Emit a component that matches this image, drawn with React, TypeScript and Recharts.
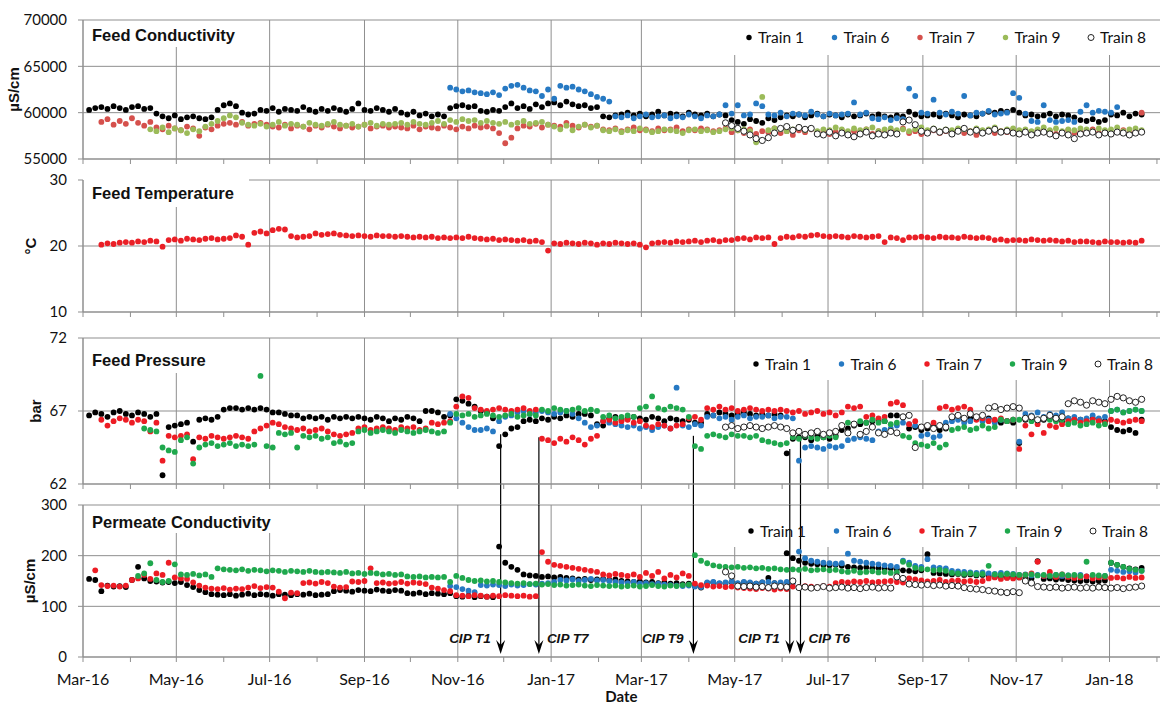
import React from "react";
import {
  ScatterChart,
  Scatter,
  XAxis,
  YAxis,
  CartesianGrid,
  ReferenceLine,
} from "recharts";

// day 0 = 1 Mar 2016, one reading plotted every 4 days
const STEP = 4;

const monthLabels = [
  "Mar-16", "Apr-16", "May-16", "Jun-16", "Jul-16", "Aug-16", "Sep-16", "Oct-16",
  "Nov-16", "Dec-16", "Jan-17", "Feb-17", "Mar-17", "Apr-17", "May-17", "Jun-17",
  "Jul-17", "Aug-17", "Sep-17", "Oct-17", "Nov-17", "Dec-17", "Jan-18", "Feb-18",
];
const monthDays = [
  0, 31, 61, 92, 122, 153, 184, 214, 245, 275, 306, 337, 365, 396, 426, 457, 487,
  518, 549, 579, 610, 640, 671, 702,
];
const majorDays = monthDays.filter((_, i) => i % 2 === 0);
const trains = ["Train 1", "Train 6", "Train 7", "Train 9", "Train 8"];

// ---- Feed conductivity (uS/cm)
const condT1 = [
  60300, 60500, 60600, 60400, 60700, 60500, 60300, 60600, 60700, 60400, 60500,
  59900, 59600, 59400, 59700, 59300, 59500, 59600, 59400, 59300, 59500,
  60300, 60800, 61000, 60700, 60000, 59800, 59900,
  60300, 60200, 60500, 60100, 60400, 60300, 60200, 60600, 60300, 60100, 60400, 60200,
  60500, 60300, 60100, 60400, 61000, 60300, 60200, 60500, 60300, 60100, 60400,
  60000, 59800, 60100, 59700, 59900, 59600, 59800, 59600,
  60500, 60700, 60800, 60600, 60700, 60200, 60100, 60300, 60200,
  60600, 61000, 60500, 60700, 60400, 60900, 60600, 61000,
  61100, 60800, 61200, 60900, 60700, 60800, 60500, 60600, 59600, 59500, 59700,
  59800, 60000, 59700, 59900, 59600, 59800, 60100, 59700, 59900, 59800, 59600, 60000,
  59800, 59700, 59900, 59600, 59800, 59700,
  59200, 59000, 58800, 59300, 59100, 58900, 59400, 59200, 59500,
  59700, 59600, 59800, 59500, 59700, 59900, 59600, 59800, 59700, 59500, 59800, 59600,
  59700, 59900, 59600, 59800,
  59600, 59500, 59700, 59600, 60100, 59800, 59600,
  59700, 59800, 59600, 59900, 59700, 59500, 59800, 59700, 59600, 59900,
  60100, 60000, 60200, 60100, 60300, 60000,
  59700, 59800, 59600, 59700, 59900, 59600, 59800, 59700, 59500,
  59200, 59100, 59300, 59000, 59200, 59800, 59700, 60000, 59600, 59900, 59800,
];
const condT6 = [
  62700, 62500, 62300, 62400, 62200, 62100, 62000, 62200, 61900,
  62600, 62900, 63000, 62700, 62400, 62300, 61800, 62500, 61500,
  62900, 62700, 62800, 62500, 62300, 62000, 61700, 61500, 61200,
  59600, 59500, 59700, 59400, 59600, 59800, 59500, 59600, 59700, 59400, 59600, 59500,
  59800, 59600, 59400, 59700, 59600, 59800, 60800,
  59900, 60800, 59700, 59800, 61000, 60700,
  59800, 59700, 60000, 59600, 59900, 59800, 59700, 60100, 59800, 59600, 59900, 59700, 59800,
  59900, 61100, 59800, 60000, 59400, 59300, 59500, 59200, 59400, 59300,
  62600, 61800, 60000,
  59900, 61400, 60000, 59800, 60100, 59900, 61800, 59700, 60000, 59900, 60200, 59800, 59900,
  60000, 62100, 61600, 59900,
  59100, 59000, 60800, 59200, 59000, 59100, 59200, 59000,
  60100, 60800, 60000, 60200, 60100, 60000, 60600,
];
const condT7 = [
  59000, 59300, 58700, 59100, 58800, 59400, 58900, 58600, 59000,
  58400, 58200, 58600, 58300, 58100, 58500, 58300, 57500, 58400, 58200, 58600,
  58800, 58900, 58700, 59000, 58600, 58800, 58900, 58700,
  58500, 58400, 58700, 58300, 58600, 58500, 58200, 58600, 58400, 58700, 58500,
  58300, 58600, 58400, 58500, 58700, 58300, 58500, 58600, 58400, 58500,
  58400, 58300, 58600, 58200, 58500, 58400, 58300, 58600, 58400, 58200, 58500,
  58300, 58600, 58400, 58500, 58300,
  57800, 56700, 57300, 58300,
  58600, 58500, 58800, 58400, 58700, 58600, 58500, 58900, 58600, 58400, 58700, 58500, 58600,
  58200, 58100, 58300, 58000, 58200, 58400, 58100, 58200, 58000, 58300, 58100,
  58200, 58400, 58000, 58200, 58100, 58300, 58200, 58000, 58100, 58300,
  57900, 58100, 57800, 58200, 57700, 58000, 57900, 58300, 57800, 58000,
  57600, 58100, 57900, 58200, 57800, 58000, 57700, 57900, 58100, 57800,
  58000, 57900, 58200, 57700, 58000, 57800, 58100, 57900, 58300, 57800,
  58000, 57700, 57900, 58100, 57800, 58000, 57900, 58200, 57800, 58000,
  57600, 57900, 58100, 57800, 58000, 57900, 58200, 57700, 58000, 57800,
  58100, 57900, 58000, 57700, 57900, 58100, 57800, 58000, 57900, 58200,
  57800, 58000, 57700, 57900, 58100, 57800, 58000, 60000,
];
const condT9 = [
  58200, 58000, 58400, 57900, 58300, 58100, 57800, 58200, 58000,
  58500, 58800, 59100, 59400, 59700, 59500,
  58900, 58700, 58600, 58800, 58500, 58700, 59000, 58600, 58800, 58700, 58500, 58900,
  58700, 58600, 58800, 59000, 58700, 58600, 58800, 58500, 58700, 58900, 58600, 58800, 58700,
  58800, 58900, 58700, 59000, 58800, 58700, 58900, 59100, 58800,
  59200, 59000, 59300, 59100, 59200, 58900, 59100,
  58900, 58800, 59000, 58700, 58900, 59100, 58800, 58900, 59000, 58700,
  58500, 58200, 58600, 58100, 58500, 58700, 58400, 58600,
  58100, 58000, 58200, 57900, 58100, 58000, 58300, 58100, 57900, 58000, 58200,
  58100, 58000, 57800, 58100, 58200, 58000, 58100, 57900, 58000, 58200,
  58300, 58100, 58200, 58000, 56800, 61700, 58100, 58300, 58200, 58000,
  58200, 58400, 58100, 58300, 58000, 58200, 58100, 58400, 58200, 58000,
  58300, 58100, 58200, 58400, 58000, 58200, 58300, 58100, 58200, 58000,
  58200, 58400, 58100, 58300, 58000, 58200, 58100, 58300, 58200, 58000,
  58300, 58100, 58200, 58400, 58000, 58200, 58300, 58100, 58200, 58000,
  58200, 58400, 58100, 58300, 58000, 58200, 58100, 58300, 58200, 58000,
  58300, 58100, 58200, 58400, 58000, 58200, 58300, 58100,
];
const condT8 = [
  58900, 58600, 58300, 58000, 57600, 57200, 57000, 57300, 57800,
  58300, 58500, 58100, 58400, 58200, 58300,
  57700, 57600, 57900, 57500, 57800, 57600, 57400, 57700, 57900, 57500, 57700, 57600, 57800, 57700,
  59000, 59200, 58700,
  58000, 57800, 58200, 57900, 58100, 57700, 58000, 58300, 57900, 58100, 57800, 58000, 58200, 57900, 58000,
  57800, 57700, 57900, 57600, 57800, 57900, 57700, 57500, 57800, 57600, 57200,
  57700, 57800, 57900, 57600, 57800, 57700, 57900, 57800, 57600, 57800, 57900,
];

// ---- Feed temperature (deg C)
const feedTemp = [
  20.2, 20.4, 20.3, 20.5, 20.6, 20.5, 20.7, 20.6, 20.8, 20.7, 19.9,
  20.9, 21.0, 20.8, 21.1, 21.0, 20.9, 21.1, 21.2, 21.0, 21.1, 21.2,
  21.6, 21.4, 20.2, 22.0, 22.2, 21.9, 22.4, 22.6, 22.5,
  21.5, 21.3, 21.4, 21.5, 21.9, 21.7, 21.8, 21.9, 21.7,
  21.6, 21.5, 21.6, 21.5, 21.4, 21.6, 21.5, 21.5, 21.4, 21.5, 21.4, 21.3, 21.4, 21.3,
  21.4, 21.2, 21.3, 21.2,
  21.3, 21.2, 21.4, 21.2, 21.1, 21.0, 21.1, 20.9, 21.0, 20.9, 20.8, 20.9, 20.7, 20.8,
  20.6, 19.3,
  20.4, 20.3, 20.5, 20.4, 20.3, 20.5, 20.4, 20.2, 20.4, 20.3, 20.5, 20.4, 20.3, 20.4, 20.2,
  19.8,
  20.4, 20.5, 20.6, 20.5, 20.7, 20.6, 20.7, 20.8, 20.6, 20.8, 20.9, 20.7, 20.9, 20.9,
  21.1, 21.2, 21.0, 21.3, 21.2, 21.3, 20.3, 21.2,
  21.4, 21.3, 21.5, 21.4, 21.6, 21.7, 21.5, 21.4, 21.5, 21.4, 21.3, 21.5, 21.4, 21.3, 21.4, 21.5,
  20.6, 21.3, 21.2, 20.9, 21.3,
  21.3, 21.4, 21.3, 21.2, 21.4, 21.3, 21.3, 21.2, 21.4, 21.3, 21.2, 21.3, 21.2,
  20.9, 21.0, 20.8, 20.9, 20.9, 20.8, 21.0, 20.9, 20.8, 20.9, 20.8,
  20.7, 20.8, 20.6, 20.7, 20.7, 20.6, 20.5, 20.7, 20.6, 20.6, 20.5, 20.6, 20.5, 20.8,
];

// ---- Feed pressure (bar)
const presT1 = [
  66.7, 66.9, 66.8, 66.6, 66.9, 67.0, 66.8, 66.7, 66.9, 66.8, 66.6, 66.8,
  62.6, 65.9, 66.0, 66.1, 66.2, 64.9, 66.4, 66.5, 66.4, 66.6,
  67.1, 67.2, 67.2, 67.1, 67.2, 67.1, 67.2, 67.1, 66.9, 66.9, 66.8, 66.7, 66.7,
  66.5, 66.6, 66.5, 66.6, 66.4, 66.6, 66.5, 66.6, 66.5, 66.6,
  66.5, 66.4, 66.6, 66.5, 66.3, 66.5, 66.4, 66.6, 66.5, 66.3,
  67.0, 67.0, 66.9, 66.6, 66.7, 67.8, 67.7, 67.5, 67.3, 67.0, 66.9, 66.5,
  64.6, 65.4, 65.8, 65.9,
  66.3, 66.4, 66.3, 66.5, 66.4, 66.6, 66.5, 66.7, 66.6, 66.8, 66.8, 66.7, 66.1, 66.0,
  66.5, 66.6, 66.4, 66.5, 66.6, 66.5, 66.4, 66.6, 66.5, 66.3, 66.5, 66.4, 66.3, 66.4,
  66.2, 66.2,
  66.8, 66.7, 66.9, 66.8, 66.7, 66.8, 66.9, 66.8, 66.7, 66.8, 66.7, 66.8, 66.7,
  64.1, 65.1, 65.2, 65.2, 65.0, 65.3, 65.2, 65.1, 65.3,
  65.7, 65.8, 66.0, 66.1, 66.2, 66.3, 66.4, 66.3, 66.7, 66.7, 66.6,
  65.8, 65.9, 65.7, 65.8, 65.9, 65.7, 65.8, 66.5, 66.6, 66.4, 66.5, 66.6, 66.4, 66.5,
  66.3, 66.2, 66.3, 66.2, 64.8,
  66.4, 66.5, 66.3, 66.4, 66.5, 66.4, 66.3, 66.5, 66.4, 66.4, 66.3, 66.5, 66.4, 66.3,
  65.9, 65.7, 65.6, 65.7, 65.5, 66.4,
];
const presT6 = [
  66.8, 66.5, 66.2, 65.9, 65.7, 65.7, 65.8, 65.6, 66.3, 66.6, 66.7,
  66.9, 67.0, 66.8, 66.9, 67.0, 66.9, 66.8, 66.9, 67.0, 66.8,
  66.5, 66.2, 65.9, 66.0, 66.3, 66.2, 66.1, 66.0,
  65.9, 66.0, 65.8, 65.9, 65.7, 65.9, 66.0, 65.8, 68.6, 66.0, 65.9, 66.1, 66.0,
  66.6, 66.7, 66.5, 66.6, 66.4, 66.6, 66.7, 66.5, 66.6,
  66.6, 66.7, 66.5, 66.6, 66.6, 66.5, 63.6,
  64.5, 64.6, 64.5, 64.4, 64.6, 64.5, 64.6, 65.0, 65.1, 65.2, 65.1, 65.0,
  65.6, 65.7, 65.8, 66.0, 66.2, 66.1, 66.0, 65.3, 65.4, 65.2, 65.3,
  66.2, 66.3, 66.4, 66.2, 66.3, 66.5, 66.3, 66.4, 66.2, 66.4, 66.3, 66.4, 64.9,
  66.8, 66.7, 66.9, 66.6, 66.8, 66.7, 66.9, 66.5, 66.6, 66.4, 66.5, 66.7, 66.5, 66.6,
  67.0, 67.1, 66.9, 67.0, 67.1, 67.0,
];
const presT7 = [
  66.4, 66.0, 66.3, 66.5, 66.4, 66.2, 66.4, 66.3, 65.6, 66.2, 63.6,
  65.3, 65.2, 65.3, 65.4, 63.7,
  65.2, 65.1, 65.3, 65.2, 65.1, 65.2, 65.3, 65.2, 65.1,
  65.6, 65.8, 66.0, 66.2, 66.1, 65.9, 65.8,
  65.7, 65.8, 65.6, 65.7, 65.8, 65.6, 65.4, 65.3, 65.4, 65.5,
  65.8, 65.9, 65.7, 65.8, 65.9, 65.8, 65.7, 65.9, 65.8, 65.9, 65.7, 65.8,
  66.2, 66.1, 66.2, 66.3, 67.3, 68.0,
  67.9, 67.2, 67.1, 67.0, 67.1, 67.2, 67.1, 67.0, 67.1, 67.2, 67.0, 67.1,
  65.1, 65.0, 64.8, 65.1, 64.9, 65.2, 65.0, 64.7, 65.1, 65.3,
  66.3, 66.4, 66.2, 66.3, 66.4, 66.2, 66.3, 66.0, 65.9, 66.1, 66.0, 65.8, 66.0, 66.1,
  66.5, 66.6, 66.4,
  67.2, 67.1, 67.3, 67.1, 67.2, 67.0, 67.1, 67.2, 67.1, 67.0, 67.1, 67.0, 67.1, 67.0,
  66.9, 67.0, 66.8, 66.9, 67.0, 66.8, 66.9, 66.7, 66.9,
  67.3, 67.2, 67.3, 66.6, 66.7, 66.5, 66.6, 67.5, 67.6, 67.4,
  66.1, 66.3, 65.9, 66.0, 66.2, 67.2, 67.3, 67.1, 67.2, 67.3, 67.1,
  66.4, 66.5, 66.3, 66.4, 66.5, 66.3, 66.4, 64.4,
  66.0, 65.4, 66.1, 65.5, 66.0, 65.9, 66.1,
  66.3, 66.4, 66.2, 66.3, 66.4, 66.3, 66.2, 66.4, 66.3, 66.2, 66.3, 66.4, 66.3,
];
const presT9 = [
  65.8, 65.7, 65.6, 64.5, 64.3, 64.2, 65.0, 65.2, 63.4, 64.5,
  64.7, 64.8, 64.6, 64.7, 64.8, 64.6, 64.7, 64.6, 64.7, 69.4, 64.6, 64.5,
  65.5, 65.4, 65.5, 64.5, 65.3, 65.2, 65.3, 65.1, 65.2, 64.8, 64.9, 64.7, 64.8,
  65.6, 65.7, 65.5, 65.6, 65.7, 65.6, 65.5, 65.7, 65.6, 65.5, 65.6, 65.7, 65.6, 65.5, 65.6,
  66.2, 66.8,
  66.7, 66.8, 66.6, 66.7, 66.8, 66.7, 66.6, 66.7, 66.8, 66.6, 66.7, 66.8, 66.7,
  67.1, 67.0, 67.2, 67.1, 67.0, 67.1, 67.2, 67.0, 67.1, 67.0,
  66.6, 66.7, 66.5, 66.6, 66.7, 66.6,
  67.2, 67.3, 68.0, 67.2, 67.1, 67.3, 67.2, 67.1, 66.6, 64.6, 64.4,
  65.3, 65.4, 65.3, 65.2, 65.4, 65.3, 65.3, 65.2, 65.3, 65.0, 64.9, 64.8, 64.7, 64.8,
  65.2, 65.1, 65.3, 65.2, 65.1, 65.2, 65.3, 65.2,
  66.0, 66.2, 66.1, 66.3, 66.2, 66.4, 66.2, 66.3, 66.1, 66.2, 65.3, 65.2,
  64.8, 64.7, 64.6, 64.8, 64.5, 64.7,
  65.7, 65.8, 65.9, 65.7, 65.8, 66.0, 65.8, 65.9, 66.4, 66.3, 66.4,
  66.4, 66.5, 66.3, 66.4, 66.5, 66.4, 66.3, 66.4,
  66.1, 66.2, 66.0, 66.1, 66.2, 66.0, 66.1, 67.0, 67.1, 66.9, 67.0, 67.1, 67.0,
];
const presT8 = [
  65.9, 66.0, 65.8, 65.9, 66.0, 65.9, 65.8, 65.9, 66.0, 65.9, 65.8,
  65.5, 65.6, 65.4, 65.5, 65.6, 65.4,
  65.5, 65.6, 66.0, 65.5, 66.1, 65.4, 65.6, 65.9, 65.5, 65.4, 65.6, 65.5,
  66.6, 66.7, 64.5, 65.9, 66.0, 65.8, 66.0, 65.9,
  66.6, 66.7, 66.5, 66.8, 66.6, 66.7, 67.2, 67.3, 67.1, 67.2, 67.3, 67.2,
  66.5, 66.6, 66.4, 66.5, 66.7, 66.5, 66.6,
  67.5, 67.7, 67.6, 67.4, 67.7, 67.6, 67.5, 67.8, 68.0, 67.9, 67.7, 67.6, 67.8,
];

// ---- Permeate conductivity (uS/cm)
const permT1 = [
  154, 152, 130, 141, 139, 140, 138, 152, 178, 155, 150,
  149, 147, 148, 146, 148, 142, 138, 132, 128,
  124, 123, 122, 124, 121, 123, 125, 122, 124, 123, 121, 124, 123, 122, 124, 123, 125, 122, 123, 124,
  130, 132, 131, 129, 132, 131, 130, 133, 131, 130, 132, 131,
  126, 125, 127, 124, 126, 125, 124, 126, 120, 119, 121, 118, 120, 119, 118,
  218, 186, 178, 172,
  163, 161, 160, 158, 159, 157, 158, 156, 155, 153, 154, 152, 153, 154, 152, 153,
  150, 149, 148, 149, 147, 148, 146, 147, 145, 146, 144, 145, 140, 137,
  146, 147, 145, 146, 148, 145, 147, 146, 145, 147, 156, 146, 145,
  205, 195, 190, 186, 184, 183, 182, 181, 182, 180,
  178, 177, 176, 177, 175, 176, 174, 175, 173, 171, 170, 169, 171, 203,
  166, 165, 164, 163, 164, 162, 163, 161, 162, 160, 158, 159, 157, 158, 157,
  156, 155, 189, 154, 155, 153, 154, 152, 151, 150, 151, 149, 150, 151,
  186, 182, 178, 175, 173, 176,
];
const permT6 = [
  140, 138, 134, 131, 128,
  142, 141, 143, 142, 140, 143, 141, 142, 144, 143, 145, 146, 148,
  152, 151, 153, 150, 152, 154, 151, 152, 150,
  148, 147, 146, 148, 145, 146, 144, 145, 143, 142, 141, 140, 141, 139, 138,
  147, 148, 146, 147, 149, 146, 148, 147, 145, 147, 148, 146, 147, 148, 146,
  208, 195, 190, 188, 186, 185, 184, 185, 204,
  190, 188, 186, 184, 183, 181, 180, 178, 190, 186, 180, 178, 193, 177, 176, 175,
  170, 169, 168, 167, 166, 167, 165, 164, 166,
  165, 164, 162, 163, 161, 162, 160, 161, 162, 160,
  161, 160, 162, 159, 160, 158, 160, 172, 170, 168, 169, 167, 170,
];
const permT7 = [
  171, 142, 140, 141, 139, 141, 152, 155, 162, 154, 165, 162, 186, 157, 155, 154,
  147, 141, 137, 135, 134, 136, 133, 135, 134, 137, 140, 136, 138, 137,
  129, 116, 127, 126, 146, 147, 145, 148, 146, 139, 137, 138, 149, 148, 150, 175,
  146, 147, 145, 146, 148, 145, 147, 146, 144, 137, 135, 132, 130,
  122, 121, 120, 122, 121, 119, 121, 120, 122, 121, 120, 121, 119, 120,
  207, 188, 182, 180, 178, 176, 174, 172, 170, 168,
  163, 161, 164, 162, 160, 163, 158, 166, 160, 168, 155, 162, 157, 165, 160,
  145, 142, 141, 139, 140, 138, 139, 137, 136, 135, 134, 136, 135, 133, 135, 134,
  139, 138, 140, 139, 138, 140, 139,
  146, 148, 147, 149, 148, 150, 147, 148, 149, 150, 148, 147, 155, 153,
  151, 149, 150, 152, 148, 150, 151, 149, 150, 148, 150,
  155, 157, 154, 156, 155, 157, 162, 165, 188, 160, 168, 158, 163,
  158, 156, 157, 159, 155, 157, 158, 156, 157, 155, 158, 156, 157,
];
const permT9 = [
  160, 165, 185, 152, 148, 150, 183, 163, 162, 164, 161, 163, 158,
  175, 173, 172, 171, 173, 170, 172, 171, 169, 171, 170, 168, 170, 169, 168, 170, 168, 167, 168,
  167, 166, 168, 165, 166, 164, 166, 165, 163, 164, 162, 163,
  159, 158, 159, 157, 158, 157, 158, 148, 160, 156, 152, 150, 151, 149, 150, 148,
  147, 146, 145, 146, 144, 145, 143, 144, 142, 143, 141, 142, 143, 141, 140, 142,
  141, 140, 141, 139, 140, 141, 139, 140, 142, 140, 139, 141, 140, 142, 143,
  201, 190, 185, 181,
  179, 178, 177, 178, 176, 177, 175, 176, 174, 175, 173, 172,
  173, 172, 174, 171, 172, 173, 171, 172,
  169, 168, 170, 167, 168, 169, 167, 168, 166, 167, 188, 182,
  176, 174, 173, 171, 172, 170,
  166, 165, 164, 165, 163, 164, 180, 163, 162, 164, 163, 162,
  162, 163, 161, 162, 160, 162, 163, 161, 162, 160, 188, 162, 161, 160,
  186, 182, 178, 174, 172, 170,
];
const permT8 = [
  168, 160, 140, 139, 140, 138, 139, 137, 140, 139, 138, 150,
  137, 138, 136, 137, 139, 136, 137, 138, 136, 137, 135, 137, 138, 136, 137, 136,
  158, 155, 144, 143, 142, 143, 141, 142, 140, 141, 140,
  137, 135, 134, 133, 131, 130, 128, 127, 129, 127, 150, 146,
  139, 138, 137, 138, 136, 137, 138, 136, 137, 136, 138, 137, 136, 137, 135, 137, 138, 140,
];

// CIP events: day, pressure where the arrow leaves the pressure panel
const cipEvents = [
  { label: "CIP T1", day: 273, from: 65.4, side: -1 },
  { label: "CIP T7", day: 298, from: 65.2, side: 1 },
  { label: "CIP T9", day: 399, from: 65.3, side: -1 },
  { label: "CIP T1", day: 462, from: 64.4, side: -1 },
  { label: "CIP T6", day: 469, from: 65.0, side: 1 },
];

const GRID = "#8f8f8f";
const TXT = "#111";
const OPEN = "open";
const DOT_R = 2.9;
const colorsTop = ["#000000", "#2679c3", "#d5504c", "#9bbb59", OPEN];
const colorsLow = ["#000000", "#2679c3", "#ed1c24", "#1fa84d", OPEN];

const toPoints = (start: number, values: number[]) =>
  values.map((y, i) => ({ x: start + i * STEP, y }));

type Series = { name: string; color: string; start: number; values: number[] };

const condSeries: Series[] = [
  { name: "Train 1", color: colorsTop[0], start: 4, values: condT1 },
  { name: "Train 6", color: colorsTop[1], start: 240, values: condT6 },
  { name: "Train 7", color: colorsTop[2], start: 12, values: condT7 },
  { name: "Train 9", color: colorsTop[3], start: 44, values: condT9 },
  { name: "Train 8", color: OPEN, start: 420, values: condT8 },
];
const tempSeries: Series[] = [
  { name: "Feed temperature", color: "#ea1f26", start: 12, values: feedTemp },
];
const presSeries: Series[] = [
  { name: "Train 1", color: colorsLow[0], start: 4, values: presT1 },
  { name: "Train 6", color: colorsLow[1], start: 240, values: presT6 },
  { name: "Train 7", color: colorsLow[2], start: 12, values: presT7 },
  { name: "Train 9", color: colorsLow[3], start: 40, values: presT9 },
  { name: "Train 8", color: OPEN, start: 420, values: presT8 },
];
const permSeries: Series[] = [
  { name: "Train 1", color: colorsLow[0], start: 4, values: permT1 },
  { name: "Train 6", color: colorsLow[1], start: 240, values: permT6 },
  { name: "Train 7", color: colorsLow[2], start: 8, values: permT7 },
  { name: "Train 9", color: colorsLow[3], start: 36, values: permT9 },
  { name: "Train 8", color: OPEN, start: 420, values: permT8 },
];

const dotShape = (color: string) => (p: any) =>
  color === OPEN ? (
    <circle cx={p.cx} cy={p.cy} r={3.1} fill="#fff" stroke="#222" strokeWidth={1} />
  ) : (
    <circle cx={p.cx} cy={p.cy} r={DOT_R} fill={color} />
  );

const fmtMonth = (v: number) => {
  const i = monthDays.indexOf(v);
  return i % 2 === 0 ? monthLabels[i] : "";
};

function CipArrow(p: any) {
  const { x1, y1, x2, y2, label, side } = p;
  return (
    <g>
      <line x1={x1} y1={y1} x2={x2} y2={y2 - 6} stroke="#000" strokeWidth={1.2} />
      <polygon
        points={`${x2},${y2} ${x2 - 4.5},${y2 - 14} ${x2},${y2 - 9} ${x2 + 4.5},${y2 - 14}`}
        fill="#000"
      />
      <text
        x={side < 0 ? x2 - 10 : x2 + 8}
        y={y2 - 11}
        textAnchor={side < 0 ? "end" : "start"}
        fill={TXT}
        style={{ font: "italic bold 13.5px 'Liberation Sans', Arial, sans-serif" }}
      >
        {label}
      </text>
    </g>
  );
}

type PanelProps = {
  top: number;
  height: number;
  marginTop: number;
  axisHeight: number;
  domain: [number, number];
  ticks: number[];
  series: Series[];
  cuts: Record<number, number>;
  trimTop?: number;
  bottom?: boolean;
  children?: React.ReactNode;
};

function Panel({ top, height, marginTop, axisHeight, domain, ticks, series, cuts, trimTop, bottom, children }: PanelProps) {
  return (
    <div style={{ position: "absolute", left: 0, top }}>
      <ScatterChart width={1162} height={height} margin={{ top: marginTop, right: 2, bottom: 0, left: 0 }}>
        <CartesianGrid
          verticalValues={majorDays}
          horizontal={(p: any) => (
            <line
              key={p.key}
              x1={trimTop && Math.abs(p.y1 - p.y) < 1 ? p.x1 + trimTop : p.x1}
              y1={p.y1}
              x2={p.x2}
              y2={p.y2}
              stroke={GRID}
            />
          )}
          vertical={(p: any) => (
            <line key={p.key} x1={p.x1} y1={p.y1 + (cuts[p.index] || 0)} x2={p.x2} y2={p.y2} stroke={GRID} />
          )}
        />
        <XAxis
          type="number"
          dataKey="x"
          domain={[0, 704]}
          ticks={monthDays}
          interval={0}
          allowDataOverflow
          height={axisHeight}
          tickSize={5}
          tickMargin={12}
          stroke={GRID}
          tick={{ fill: TXT, fontSize: 16, fontFamily: "Lato" }}
          tickFormatter={bottom ? fmtMonth : () => ""}
          label={
            bottom
              ? {
                  value: "Date",
                  position: "insideBottom",
                  offset: 2,
                  style: { fill: TXT, fontSize: 15, fontWeight: 700, fontFamily: "Lato" },
                }
              : undefined
          }
        />
        <YAxis
          type="number"
          dataKey="y"
          domain={domain}
          ticks={ticks}
          interval={0}
          allowDataOverflow
          width={83}
          tickSize={5}
          tickMargin={11}
          stroke={GRID}
          tick={{ fill: TXT, fontSize: 15, fontFamily: "Lato" }}
        />
        {series.map((s) => (
          <Scatter
            key={s.name}
            name={s.name}
            data={toPoints(s.start, s.values)}
            fill={s.color === OPEN ? "#fff" : s.color}
            shape={dotShape(s.color)}
            isAnimationActive={false}
          />
        ))}
        {children}
      </ScatterChart>
    </div>
  );
}

const titles = [
  { text: "Feed Conductivity", y: 41 },
  { text: "Feed Temperature", y: 199 },
  { text: "Feed Pressure", y: 366 },
  { text: "Permeate Conductivity", y: 528 },
];
const axisTitles = [
  { text: "\u00b5S/cm", x: 13, y: 89.5 },
  { text: "\u00b0C", x: 30, y: 246 },
  { text: "bar", x: 35, y: 411 },
  { text: "\u00b5S/cm", x: 29, y: 581 },
];
const legends = [
  { y: 37.5, x0: 749, colors: colorsTop },
  { y: 364, x0: 756, colors: colorsLow },
  { y: 531, x0: 751, colors: colorsLow },
];

function Overlay() {
  return (
    <svg width={1162} height={704} style={{ position: "absolute", left: 0, top: 0, pointerEvents: "none" }}>
      {titles.map((t) => (
        <text key={t.text} x={92} y={t.y} fill={TXT} style={{ font: "bold 16.5px 'Liberation Sans', Arial, sans-serif" }}>
          {t.text}
        </text>
      ))}
      {axisTitles.map((t) => (
        <text
          key={t.text + t.y}
          x={t.x}
          y={t.y}
          transform={`rotate(-90 ${t.x} ${t.y})`}
          textAnchor="middle"
          dominantBaseline="central"
          fill={TXT}
          style={{ font: "bold 15px 'Liberation Sans', Arial, sans-serif" }}
        >
          {t.text}
        </text>
      ))}
      {legends.map((lg) =>
        trains.map((name, i) => {
          const mx = lg.x0 + i * 85.5;
          const c = lg.colors[i];
          return (
            <g key={lg.y + name}>
              {c === OPEN ? (
                <circle cx={mx} cy={lg.y} r={3} fill="#fff" stroke="#222" strokeWidth={1} />
              ) : (
                <circle cx={mx} cy={lg.y} r={2.7} fill={c} />
              )}
              <text x={mx + 9} y={lg.y + 5.7} fill={TXT} style={{ font: "15.5px Lato, sans-serif" }}>
                {name}
              </text>
            </g>
          );
        })
      )}
    </svg>
  );
}

export default function App() {
  return (
    <div style={{ position: "absolute", left: 0, top: 0, width: 1162, height: 704, background: "#fff", overflow: "hidden" }}>
      <style>{".recharts-surface{overflow:visible}"}</style>
      <Panel
        top={0}
        height={175}
        marginTop={20}
        axisHeight={16}
        domain={[55000, 70000]}
        ticks={[55000, 60000, 65000, 70000]}
        series={condSeries}
        cuts={{ 1: 27, 7: 35, 8: 35, 9: 35, 10: 35, 11: 35 }}
      />
      <Panel
        top={170}
        height={158}
        marginTop={10}
        axisHeight={16}
        domain={[10, 30]}
        ticks={[10, 20, 30]}
        series={tempSeries}
        cuts={{ 1: 27 }}
        trimTop={166}
      />
      <Panel
        top={328}
        height={182}
        marginTop={10}
        axisHeight={26}
        domain={[62, 72]}
        ticks={[62, 67, 72]}
        series={presSeries}
        cuts={{ 1: 35, 7: 42, 8: 42, 9: 42, 10: 42, 11: 42 }}
      >
        {cipEvents.map((e, i) => (
          <ReferenceLine
            key={"p" + i}
            segment={[{ x: e.day, y: e.from }, { x: e.day, y: 60.55 }]}
            stroke="#000"
            strokeWidth={1.2}
            ifOverflow="visible"
          />
        ))}
      </Panel>
      <Panel
        top={500}
        height={204}
        marginTop={5}
        axisHeight={47}
        domain={[0, 300]}
        ticks={[0, 100, 200, 300]}
        series={permSeries}
        cuts={{ 1: 28, 2: 28, 7: 42, 8: 42, 9: 42, 10: 42, 11: 42 }}
        bottom
      >
        {cipEvents.map((e, i) => (
          <ReferenceLine
            key={"c" + i}
            segment={[{ x: e.day, y: 300 }, { x: e.day, y: 6 }]}
            ifOverflow="visible"
            shape={(p: any) => <CipArrow {...p} label={e.label} side={e.side} />}
          />
        ))}
      </Panel>
      <Overlay />
    </div>
  );
}
